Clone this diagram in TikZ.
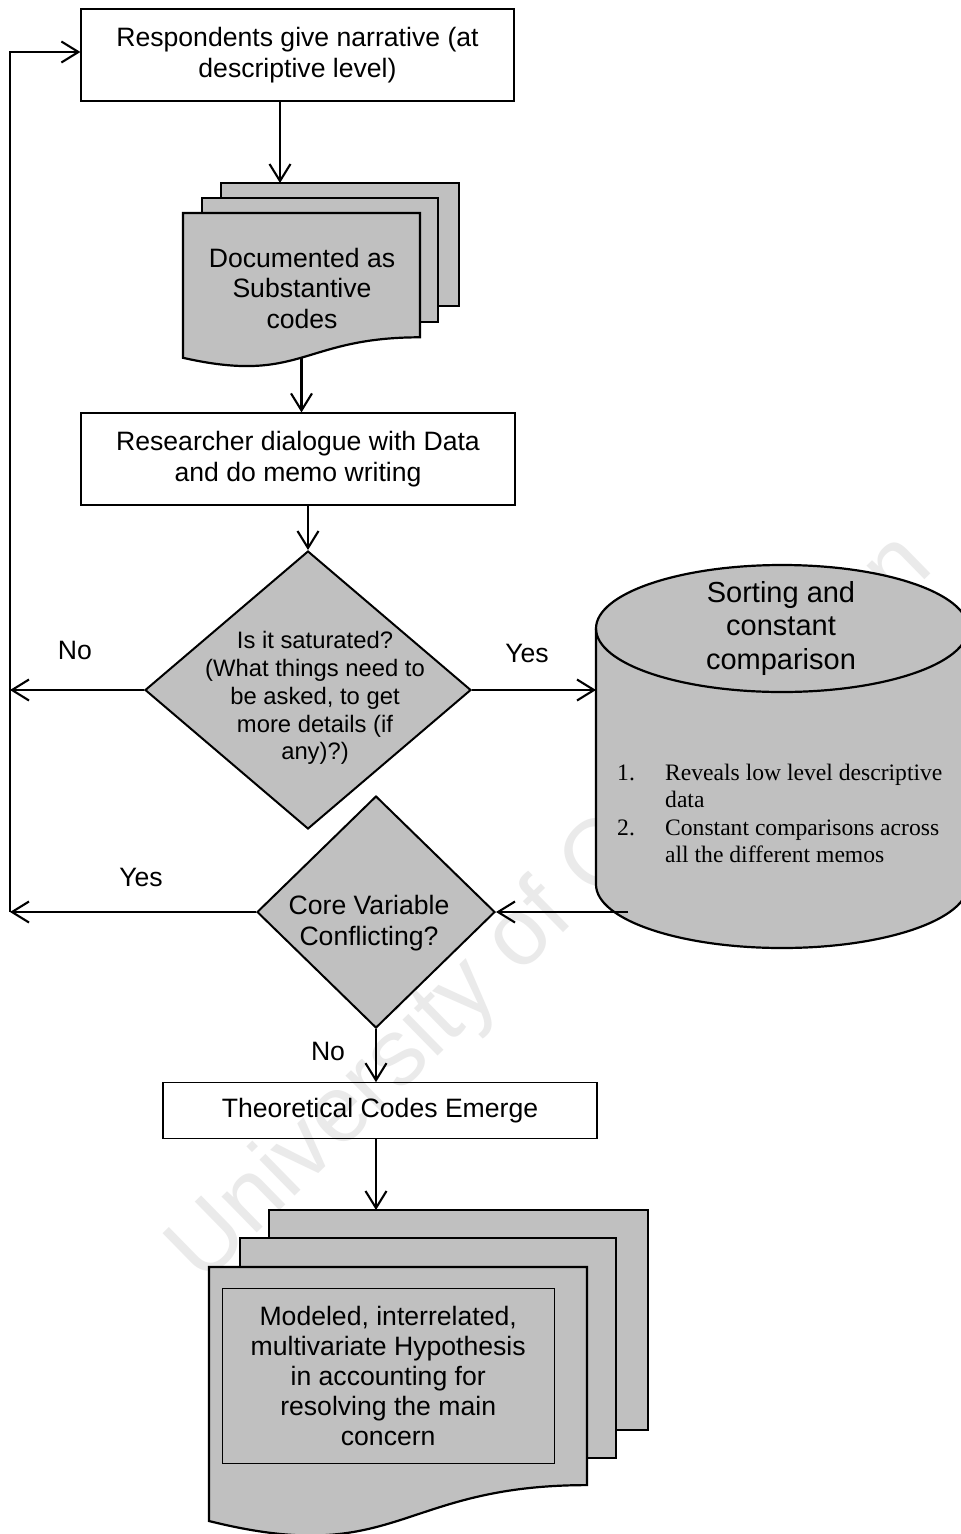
\documentclass[tikz,border=0pt]{standalone}
\usepackage{fontspec}
\setmainfont{Liberation Sans}
\newfontfamily\listfont{Liberation Serif}
\usetikzlibrary{shapes.geometric,arrows.meta}
\definecolor{shade}{HTML}{C0C0C0}
\definecolor{wmgray}{HTML}{EAEAEA}

\tikzset{
  box/.style={draw, line width=1.2pt, inner sep=0pt, align=center,
              font=\fontsize{26.6}{30.5}\selectfont},
  sheet/.style={draw, fill=shade, line width=2.2pt, inner sep=0pt},
  decision/.style={diamond, draw, fill=shade, line width=2pt, inner sep=0pt},
  txt/.style={align=center, inner sep=0pt, font=\fontsize{26.6}{30.5}\selectfont},
  arr/.style={line width=2.1pt, -{Straight Barb[length=17pt,width=21pt]}},
  lbl/.style={anchor=base, inner sep=0pt, font=\fontsize{26.6}{30.5}\selectfont},
}

\begin{document}
\begin{tikzpicture}[x=1pt, y=1pt]
  \useasboundingbox (0,0) rectangle (961,-1534);
  \fill[white] (0,0) rectangle (961,-1534);

  % watermark, behind every shape
  \node[rotate=44.4, text=wmgray, inner sep=0pt,
        font=\fontsize{95}{110}\selectfont] (wm) at (552,-910) {University of Cape Town};

  % process boxes
  \node[box, minimum width=433pt, minimum height=92pt] (box1) at (297.5,-55)
    {Respondents give narrative (at\\descriptive level)};
  \node[box, minimum width=434pt, minimum height=92pt] (box2) at (298,-459)
    {Researcher dialogue with Data\\and do memo writing};
  \node[box, minimum width=434pt, minimum height=55.5pt] (box3) at (380,-1110.5)
    {Theoretical Codes Emerge};

  % multi-document: substantive codes
  \node[sheet, minimum width=238pt, minimum height=123pt] (doc1c) at (340,-244.5) {};
  \node[sheet, minimum width=236pt, minimum height=124pt] (doc1b) at (320,-260) {};
  \draw[fill=shade, line width=2.2pt] (183,-213) -- (420,-213) -- (420,-337.3)
    .. controls (301.5,-337.3) and (301.5,-384.7) .. (183,-357.8) -- cycle;
  \node[txt] (doc1txt) at (302,-288) {Documented as\\Substantive\\codes};
  \coordinate (doc1top) at (280,-183);
  \coordinate (doc1bot) at (301.5,-357.6);

  % decisions
  \node[decision, minimum width=326pt, minimum height=278pt] (d1) at (308,-690) {};
  \node[txt, font=\fontsize{23.8}{27.9}\selectfont] (d1txt) at (315,-698)
    {Is it saturated?\\(What things need to\\be asked, to get\\more details (if\\any)?)};
  \node[decision, minimum width=238pt, minimum height=232pt] (d2) at (376,-912) {};
  \node[txt] (d2txt) at (369,-923) {Core Variable\\Conflicting?};

  % data store: sorting and constant comparison
  \path[fill=shade, draw, line width=2.2pt] (596,-628.5) -- (596,-884.5)
    arc[start angle=180, end angle=360, x radius=186, y radius=63.5]
    -- (968,-628.5)
    arc[start angle=0, end angle=180, x radius=186, y radius=63.5] -- cycle;
  \draw[line width=2.2pt] (596,-628.5)
    arc[start angle=180, end angle=360, x radius=186, y radius=63.5];
  \node[txt, font=\fontsize{29}{33.5}\selectfont] (cyltxt) at (781,-628)
    {Sorting and\\constant\\comparison};
  \node[anchor=west, inner sep=0pt, font=\listfont\fontsize{23.6}{27.5}\selectfont] (cyllist) at (617,-816)
    {\begin{tabular}{@{}p{48pt}@{}l@{}}
      1. & Reveals low level descriptive\\
         & data\\
      2. & Constant comparisons across\\
         & all the different memos
     \end{tabular}};
  \coordinate (cylW) at (596,-690);
  \coordinate (cylOut) at (628,-912);

  % multi-document: hypothesis
  \node[sheet, minimum width=379pt, minimum height=220pt] (doc2c) at (458.5,-1320) {};
  \node[sheet, minimum width=376pt, minimum height=220pt] (doc2b) at (428,-1348) {};
  \draw[fill=shade, line width=2.2pt] (209,-1267) -- (587,-1267) -- (587,-1485.1)
    .. controls (398,-1485.1) and (398,-1568.2) .. (209,-1521) -- cycle;
  \node[draw, line width=1pt, minimum width=332pt, minimum height=175pt, inner sep=0pt,
        align=center, font=\fontsize{26.6}{30}\selectfont] (doc2note) at (388.2,-1375.5)
    {Modeled, interrelated,\\multivariate Hypothesis\\in accounting for\\resolving the main\\concern};
  \coordinate (doc2top) at (376,-1210);

  % loop-back line
  \coordinate (loopTop) at (10,-52);
  \coordinate (loopBot) at (10,-912);

  % connectors
  \draw[arr] (box1.south -| doc1top) -- (doc1top);
  \draw[arr] (doc1bot) -- (doc1bot |- box2.north);
  \draw[arr] (box2.south -| d1.north) -- (d1.north);
  \draw[arr] (d1.west) -- (d1.west -| loopBot);
  \draw[arr] (d1.east) -- (d1.east -| cylW);
  \draw[arr] (cylOut) -- (d2.east);
  \draw[arr] (d2.west) -- (d2.west -| loopBot);
  \draw[arr] (loopBot) -- (loopTop) -- (loopTop -| box1.west);
  \draw[arr] (d2.south) -- (d2.south |- box3.north);
  \draw[arr] (box3.south -| doc2top) -- (doc2top);

  % branch labels
  \node[lbl] (noA) at (75,-659.6) {No};
  \node[lbl] (yesA) at (527,-662.6) {Yes};
  \node[lbl] (yesB) at (141,-886.6) {Yes};
  \node[lbl] (noB) at (328,-1060.3) {No};
\end{tikzpicture}
\end{document}
